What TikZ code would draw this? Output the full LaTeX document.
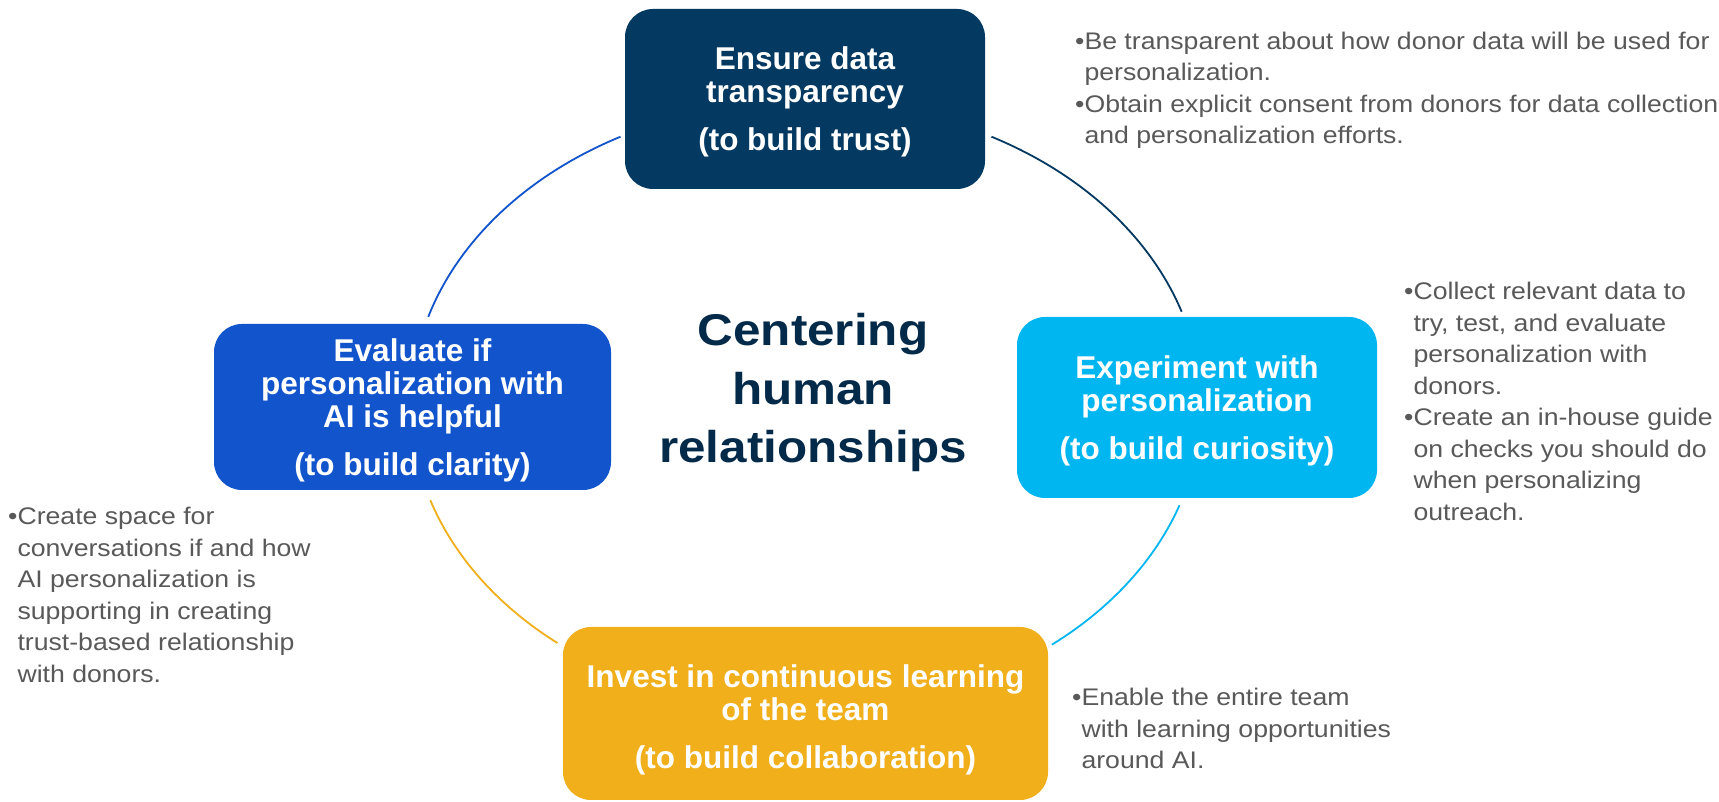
\documentclass[tikz,border=0pt]{standalone}
\usepackage{fontspec}
\setmainfont{Liberation Sans}
\newfontfamily\widesans{Liberation Sans}[FakeStretch=1.11]
\usetikzlibrary{calc}

\definecolor{navy}{RGB}{4,57,97}
\definecolor{sky}{RGB}{0,182,241}
\definecolor{royal}{RGB}{18,84,204}
\definecolor{gold}{RGB}{240,175,27}
\definecolor{ink}{RGB}{4,42,74}
\definecolor{note}{RGB}{89,89,89}

% title of a step box: main lines, then the aim in parentheses
\newcommand\boxtitle[3][4.5pt]{\raisebox{-#1}[\height][\depth]{\begin{tabular}{@{}c@{}}#2\\[15pt]#3\end{tabular}}}
% left-aligned bullet notes, baseline on the first line
\newcommand\notelines[1]{\begin{tabular}[t]{@{}l@{}}#1\end{tabular}}
\newcommand\hang{\phantom{•}}

\tikzset{
  stepbox/.style={rounded corners=28pt, inner sep=0pt, text=white,
    font=\fontsize{31.5}{33}\selectfont\bfseries},
  ringarc/.style={line width=1.8pt},
  notes/.style={anchor=base west, inner sep=0pt, text=note,
    font=\widesans\fontsize{24}{31.5}\selectfont},
}

\begin{document}
\begin{tikzpicture}[x=1pt,y=1pt]
\path[use as bounding box, fill=white] (0,0) rectangle (1719,802);

% ring behind the steps
\coordinate (ring) at (806,396);
\draw[ringarc, royal] ($(ring)+(118:395pt and 305pt)$) arc[start angle=118, end angle=163, x radius=395pt, y radius=305pt];
\draw[ringarc, navy]  ($(ring)+(62:395pt and 305pt)$)  arc[start angle=62, end angle=18, x radius=395pt, y radius=305pt];
\draw[ringarc, sky]   ($(ring)+(-19:395pt and 305pt)$) arc[start angle=-19, end angle=-51.5, x radius=395pt, y radius=305pt];
\draw[ringarc, gold]  ($(ring)+(198:395pt and 305pt)$) arc[start angle=198, end angle=231, x radius=395pt, y radius=305pt];

% steps
\node[stepbox, fill=navy, minimum width=360pt, minimum height=180pt] (trust) at (805,703)
  {\boxtitle{Ensure data\\transparency}{(to build trust)}};
\node[stepbox, fill=sky, minimum width=360pt, minimum height=181pt] (curio) at (1197,394.5)
  {\boxtitle{Experiment with\\personalization}{(to build curiosity)}};
\node[stepbox, fill=royal, minimum width=397pt, minimum height=166pt] (clarity) at (412.5,395)
  {\boxtitle{Evaluate if\\personalization with\\AI is helpful}{(to build clarity)}};
\node[stepbox, fill=gold, minimum width=485pt, minimum height=173pt] (collab) at (805.5,88.5)
  {\boxtitle[7.5pt]{Invest in continuous learning\\of the team}{(to build collaboration)}};

% centre
\node[anchor=base, inner sep=0pt, text=ink, font=\widesans\bfseries\fontsize{44.5}{58.5}\selectfont] (core) at (813,456)
  {\begin{tabular}[t]{@{}c@{}}Centering\\human\\relationships\end{tabular}};

% notes
\node[notes] (n-trust) at (1075,752.5) {\notelines{%
  •Be transparent about how donor data will be used for\\
  \hang personalization.\\
  •Obtain explicit consent from donors for data collection\\
  \hang and personalization efforts.}};
\node[notes] (n-curio) at (1404,502) {\notelines{%
  •Collect relevant data to\\
  \hang try, test, and evaluate\\
  \hang personalization with\\
  \hang donors.\\
  •Create an in-house guide\\
  \hang on checks you should do\\
  \hang when personalizing\\
  \hang outreach.}};
\node[notes] (n-clarity) at (8,277) {\notelines{%
  •Create space for\\
  \hang conversations if and how\\
  \hang AI personalization is\\
  \hang supporting in creating\\
  \hang trust-based relationship\\
  \hang with donors.}};
\node[notes] (n-collab) at (1072,96) {\notelines{%
  •Enable the entire team\\
  \hang with learning opportunities\\
  \hang around AI.}};
\end{tikzpicture}
\end{document}
